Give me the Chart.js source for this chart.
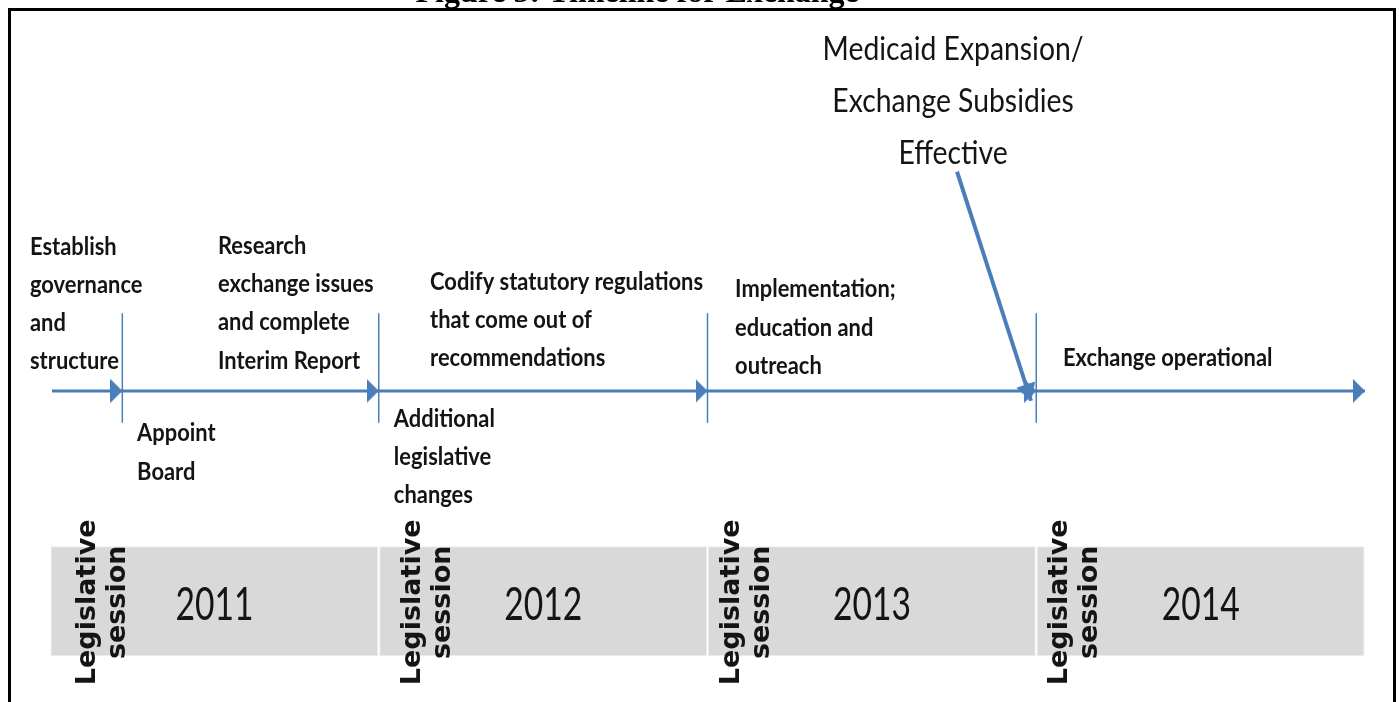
<!DOCTYPE html>
<html>
<head>
<meta charset="utf-8">
<script src="https://cdn.jsdelivr.net/npm/chart.js@4.4.1/dist/chart.umd.min.js"></script>
<style>
  html, body { margin: 0; padding: 0; background: #ffffff; }
  #wrap { position: relative; width: 1399px; height: 702px; }
</style>
</head>
<body>
<div id="wrap"><canvas id="timelineChart" width="1399" height="702"></canvas></div>
<script>
// x axis = calendar time in years, y axis = rows above (+) / below (-) the timeline
const years = [2011, 2012, 2013, 2014];
const yearLabels = ["2011", "2012", "2013", "2014"];
const timelineStart = 2011.006;
const timelineEnd = 2015;
const milestones = [2011.22, 2012, 2013, 2014];
const tickTop = 2.05;
const tickBottom = -0.84;
const barLow = -7.0;
const barHigh = -4.1;
const sessionX = [2011.116, 2012.104, 2013.075, 2014.072];
const sessionLines = ["Legislative", "session"];
const sessionY = -5.58;
const yearTextY = -5.66;

const eventX = [2010.939, 2011.265, 2011.511, 2012.046, 2012.156, 2013.084, 2014.081];
const eventY = [3.80, -1.13, 3.82, -0.74, 2.88, 2.67, 0.86];
const eventText = [
  ["Establish", "governance", "and", "structure"],
  ["Appoint", "Board"],
  ["Research", "exchange issues", "and complete", "Interim Report"],
  ["Additional", "legislative", "changes"],
  ["Codify statutory regulations", "that come out of", "recommendations"],
  ["Implementation;", "education and", "outreach"],
  ["Exchange operational"]
];

const calloutText = ["Medicaid Expansion/", "Exchange Subsidies", "Effective"];
const calloutX = 2013.747;
const calloutY = 9.0;
const calloutFrom = { x: 2013.759, y: 5.79 };
const calloutTo = { x: 2013.984, y: -0.26 };

const figureTitle = "Figure 5: Timeline for Exchange";
const titleX = 2012.786;
const titleY = 10.27;

const BLUE = "#4a7ebb";

// arrow head whose tip sits at the canvas centre
function arrowHead(len, half) {
  const c = document.createElement("canvas");
  c.width = len * 2;
  c.height = half * 2;
  const g = c.getContext("2d");
  g.fillStyle = BLUE;
  g.beginPath();
  g.moveTo(len, half);
  g.lineTo(0, 0);
  g.lineTo(0, half * 2);
  g.closePath();
  g.fill();
  return c;
}
const headMain = arrowHead(12, 12);
const headCallout = arrowHead(17, 10);

const timelinePts = [timelineStart, ...milestones, timelineEnd].map(x => ({ x: x, y: 0 }));

const tickSets = milestones.map(m => ({
  type: "line",
  data: [{ x: m, y: tickTop }, { x: m, y: tickBottom }],
  borderColor: BLUE,
  borderWidth: 1.5,
  pointRadius: 0,
  order: 2
}));

// squeeze text horizontally, the source figure is narrow (Calibri-like)
function narrowText(ctx, t, px, py, sx) {
  ctx.save();
  ctx.translate(px, py);
  ctx.scale(sx, 1);
  ctx.fillText(t, 0, 0);
  ctx.restore();
}

const textPlugin = {
  id: "timelineText",
  afterDatasetsDraw(chart) {
    const { ctx, scales: { x, y } } = chart;
    const unit = y.getPixelForValue(0) - y.getPixelForValue(1);
    ctx.save();
    ctx.fillStyle = "#141414";
    ctx.textBaseline = "middle";

    // event labels
    ctx.font = "bold 24px Lato, 'Open Sans', sans-serif";
    ctx.textAlign = "left";
    let sx = 273 / ctx.measureText("Codify statutory regulations").width;
    eventText.forEach((lines, i) => {
      const px = x.getPixelForValue(eventX[i]);
      lines.forEach((t, j) => {
        narrowText(ctx, t, px, y.getPixelForValue(eventY[i]) + j * unit * 1.01, sx);
      });
    });

    // callout
    ctx.font = "32px Lato, 'Open Sans', sans-serif";
    ctx.textAlign = "center";
    sx = 261 / ctx.measureText("Medicaid Expansion/").width;
    calloutText.forEach((t, j) => {
      narrowText(ctx, t, x.getPixelForValue(calloutX), y.getPixelForValue(calloutY) + j * 52, sx);
    });

    // year labels
    ctx.font = "47px Lato, 'Open Sans', sans-serif";
    sx = 78 / ctx.measureText("2011").width;
    years.forEach((yr, i) => {
      narrowText(ctx, yearLabels[i], x.getPixelForValue(yr + 0.5), y.getPixelForValue(yearTextY), sx);
    });

    // legislative session, rotated
    ctx.font = "bold 27px 'DejaVu Sans', sans-serif";
    sessionX.forEach(sxv => {
      const px = x.getPixelForValue(sxv);
      const py = y.getPixelForValue(sessionY);
      sessionLines.forEach((t, j) => {
        ctx.save();
        ctx.translate(px + j * 30, py);
        ctx.rotate(-Math.PI / 2);
        ctx.fillText(t, 0, 0);
        ctx.restore();
      });
    });

    // figure title (mostly cut off above the frame)
    ctx.font = "bold 32px 'Liberation Serif', serif";
    ctx.textBaseline = "alphabetic";
    ctx.fillStyle = "#000000";
    ctx.fillText(figureTitle, x.getPixelForValue(titleX), y.getPixelForValue(titleY));

    // frame
    ctx.strokeStyle = "#000000";
    ctx.lineWidth = 3;
    ctx.beginPath();
    ctx.moveTo(9.5, chart.height);
    ctx.lineTo(9.5, 9.5);
    ctx.lineTo(1394.5, 9.5);
    ctx.lineTo(1394.5, chart.height);
    ctx.stroke();
    ctx.restore();
  }
};

new Chart(document.getElementById("timelineChart"), {
  data: {
    datasets: [
      {
        type: "bar",
        data: years.map(yr => ({ x: yr + 0.5, y: [barLow, barHigh] })),
        backgroundColor: "#d9d9d9",
        borderColor: "#ececec",
        borderWidth: 1,
        borderSkipped: false,
        barPercentage: 0.997,
        categoryPercentage: 1,
        order: 3
      },
      ...tickSets,
      {
        type: "line",
        data: timelinePts,
        borderColor: BLUE,
        borderWidth: 3,
        pointStyle: headMain,
        pointRadius: timelinePts.map((p, i) => (i === 0 ? 0 : 1)),
        order: 1
      },
      {
        type: "line",
        data: [calloutFrom, calloutTo],
        borderColor: BLUE,
        borderWidth: 4,
        pointStyle: headCallout,
        pointRadius: [0, 1],
        pointRotation: 72,
        order: 0
      }
    ]
  },
  options: {
    responsive: false,
    animation: false,
    layout: { padding: { left: 50, right: 34, top: 12, bottom: 6 } },
    plugins: { legend: { display: false }, tooltip: { enabled: false } },
    scales: {
      x: { type: "linear", min: 2011, max: 2015, offset: false, display: false, ticks: { stepSize: 1 } },
      y: { type: "linear", min: -8, max: 10, display: false }
    }
  },
  plugins: [textPlugin]
});
</script>
</body>
</html>
